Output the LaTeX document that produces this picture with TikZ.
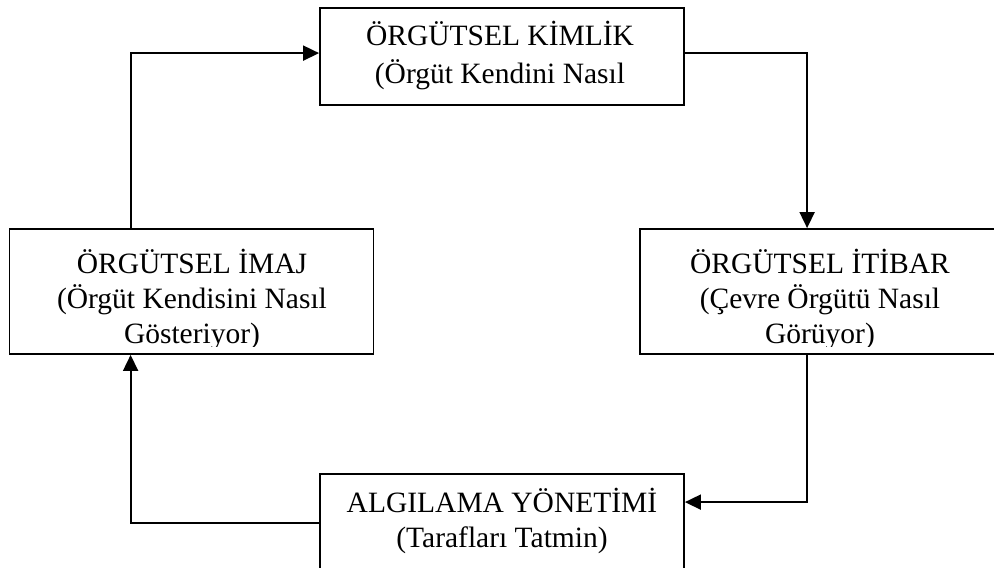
\documentclass[tikz,border=0pt]{standalone}
\usepackage{fontspec}
\setmainfont{Liberation Serif}
\usetikzlibrary{arrows.meta,calc}
\begin{document}
\begin{tikzpicture}[x=1pt,y=-1pt,
  box/.style={draw=black, line width=1.8pt, rectangle, inner sep=0pt},
  wide/.style={minimum width=364pt},
  txtline/.style={anchor=base, inner sep=0pt, font=\fontsize{29.5}{35}\selectfont},
  flow/.style={line width=1.8pt, -{Triangle[length=16pt,width=15pt]}}]
\useasboundingbox (0,0) rectangle (994,568);
\clip (0,0) rectangle (994,568);

% boxes
\node[box, wide, minimum height=97pt]  (kimlik)   at (502,56.5)  {};
\node[box, wide, minimum height=125pt] (imaj)     at (191.5,291.5) {};
\node[box, wide, minimum height=125pt] (itibar)   at (822,291.5) {};
\node[box, wide, minimum height=125pt] (algilama) at (502,536.5) {};

% box texts
\node[txtline] (kimlik1) at (500,45) {ÖRGÜTSEL KİMLİK};
\node[txtline] (kimlik2) at (500,83) {(Örgüt Kendini Nasıl};

% the side boxes cut their last line off a little above the frame
\begin{scope}
  \clip (imaj.north west) rectangle ($(itibar.south east)+(0,-8)$);
  \node[txtline] (imaj1) at (192,273) {ÖRGÜTSEL İMAJ};
  \node[txtline] (imaj2) at (192,308) {(Örgüt Kendisini Nasıl};
  \node[txtline] (imaj3) at (192,343) {Gösteriyor)};

  \node[txtline] (itibar1) at (820,273) {ÖRGÜTSEL İTİBAR};
  \node[txtline] (itibar2) at (820,308) {(Çevre Örgütü Nasıl};
  \node[txtline] (itibar3) at (820,343) {Görüyor)};
\end{scope}

\node[txtline] (algilama1) at (502,512) {ALGILAMA YÖNETİMİ};
\node[txtline] (algilama2) at (502,547) {(Tarafları Tatmin)};

% cycle of connectors
\draw[flow] ($(imaj.north west)+(122,0)$) |- ($(kimlik.north west)+(0,46)$);
\draw[flow] ($(kimlik.north east)+(0,46)$) -| ($(itibar.north west)+(168,0)$);
\draw[flow] ($(itibar.south west)+(168,0)$) |- ($(algilama.north east)+(0,29)$);
\draw[flow] ($(algilama.north west)+(0,50)$) -| ($(imaj.south west)+(122,0)$);
\end{tikzpicture}
\end{document}
